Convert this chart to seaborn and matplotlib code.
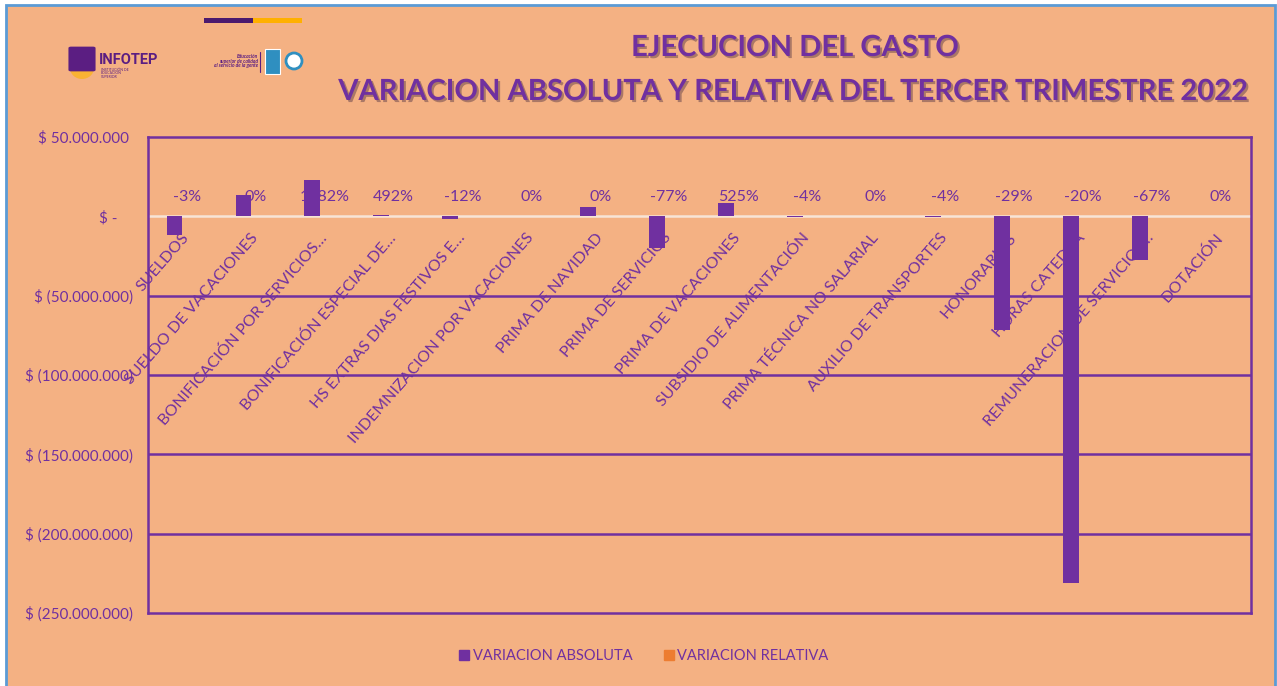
import matplotlib
matplotlib.use('Agg')
import matplotlib.pyplot as plt
import matplotlib.patches as mpatches
import matplotlib.patheffects as pe
from matplotlib.lines import Line2D
import pandas as pd
import seaborn as sns

sns.set_style(style='white')
plt.rcParams['font.family'] = ['Lato', 'DejaVu Sans']

# data
categorias = ["SUELDOS", "SUELDO DE VACACIONES", "BONIFICACIÓN POR SERVICIOS…",
              "BONIFICACIÓN ESPECIAL DE…", "HS EXTRAS DIAS FESTIVOS E…",
              "INDEMNIZACION POR VACACIONES", "PRIMA DE NAVIDAD", "PRIMA DE SERVICIOS",
              "PRIMA DE VACACIONES", "SUBSIDIO DE ALIMENTACIÓN", "PRIMA TÉCNICA NO SALARIAL",
              "AUXILIO DE TRANSPORTES", "HONORARIOS", "HORAS CATEDRA",
              "REMUNERACION DE SERVICIOS…", "DOTACIÓN"]
var_absoluta = [-12000000, 13200000, 22700000, 600000, -1900000, 0, 5700000, -20200000,
                8400000, -400000, 0, -300000, -71900000, -231400000, -27700000, 0]
var_relativa = [-0.03, 0.0, 13.82, 4.92, -0.12, 0.0, 0.0, -0.77,
                5.25, -0.04, 0.0, -0.04, -0.29, -0.20, -0.67, 0.0]
etiquetas_rel = ["-3%", "0%", "1382%", "492%", "-12%", "0%", "0%", "-77%",
                 "525%", "-4%", "0%", "-4%", "-29%", "-20%", "-67%", "0%"]
yticks = [50000000, 0, -50000000, -100000000, -150000000, -200000000, -250000000]
ytick_labels = ["$ 50.000.000 ", "$ -    ", "$ (50.000.000)", "$ (100.000.000)",
                "$ (150.000.000)", "$ (200.000.000)", "$ (250.000.000)"]

PURPLE = '#7030A0'
ORANGE = '#ED7D31'
BG = '#F4B183'
W, H = 1277, 686

df = pd.DataFrame({
    'categoria': categorias * 2,
    'valor': var_absoluta + var_relativa,
    'serie': ['VARIACION ABSOLUTA'] * len(categorias) + ['VARIACION RELATIVA'] * len(categorias),
})

fig = plt.figure(figsize=(W / 100, H / 100), dpi=100)
fig.patch.set_facecolor('white')

def px(x, y):
    return (x / W, 1 - y / H)

# slide background with thin blue frame
fig.patches.append(mpatches.Rectangle(px(6, 690), (1275 - 6) / W, (690 - 5) / H,
                                      transform=fig.transFigure, facecolor=BG,
                                      edgecolor='#5B9BD5', linewidth=2, zorder=-5))

ax = fig.add_axes([148 / W, 1 - 613 / H, (1251 - 148) / W, (613 - 137) / H])
ax.set_facecolor(BG)

sns.barplot(data=df, x='categoria', y='valor', hue='serie', palette=[PURPLE, ORANGE],
            width=0.46, ax=ax, legend=False, saturation=1, linewidth=0)
for p in ax.patches:
    p.set_zorder(3)

ax.set_ylim(-250000000, 50000000)
ax.set_xlim(-0.5, len(categorias) - 0.5)
ax.set_yticks(yticks)
ax.set_yticklabels(ytick_labels, color=PURPLE, fontsize=11)
ax.tick_params(axis='y', length=0, pad=11)
ax.set_xticks([])
ax.set_xlabel('')
ax.set_ylabel('')

for y in yticks[2:-1]:
    ax.axhline(y, color=PURPLE, lw=1.8, zorder=0.5)
ax.axhline(0, color='#F7E4D6', lw=1.8, zorder=2.5)
for s in ax.spines.values():
    s.set_visible(True)
    s.set_color(PURPLE)
    s.set_linewidth(1.8)

# category labels next to the zero line, under the bars
for i, c in enumerate(categorias):
    ax.text(i + 0.06, -12000000, c, rotation=49, ha='right', va='center',
            rotation_mode='anchor', color=PURPLE, fontsize=11.5, zorder=2)

# relative variation labels
for i, t in enumerate(etiquetas_rel):
    ax.text(i + 0.06, 12300000, t, ha='center', va='center', color=PURPLE,
            fontsize=11.5, zorder=2)

# titles
shadow = [pe.SimplePatchShadow(offset=(1.5, -1.5), alpha=0.35), pe.Normal()]
fig.text(*px(795, 48), 'EJECUCION DEL GASTO', ha='center', va='center',
         fontsize=21, fontweight='bold', color=PURPLE, path_effects=shadow)
fig.text(*px(793, 92), 'VARIACION ABSOLUTA Y RELATIVA DEL TERCER TRIMESTRE 2022',
         ha='center', va='center', fontsize=21, fontweight='bold', color=PURPLE,
         path_effects=shadow)

# legend
handles = [Line2D([], [], marker='s', linestyle='', markersize=7, color=PURPLE),
           Line2D([], [], marker='s', linestyle='', markersize=7, color=ORANGE)]
leg = fig.legend(handles, ['VARIACION ABSOLUTA', 'VARIACION RELATIVA'], loc='center',
                 bbox_to_anchor=px(644, 656), ncol=2, frameon=False, fontsize=10.5,
                 handlelength=0.6, handletextpad=0.3, columnspacing=2.2)
for t in leg.get_texts():
    t.set_color(PURPLE)

# logos (simplified)
fig.patches.append(mpatches.Rectangle(px(204, 23), 49 / W, 5 / H, transform=fig.transFigure,
                                      facecolor='#4B1A6E', edgecolor='none'))
fig.patches.append(mpatches.Rectangle(px(253, 23), 49 / W, 5 / H, transform=fig.transFigure,
                                      facecolor='#FFB000', edgecolor='none'))
fig.patches.append(mpatches.Ellipse(px(82, 68), 24 / W, 22 / H, transform=fig.transFigure,
                                    facecolor='#F9B233', edgecolor='none'))
fig.patches.append(mpatches.FancyBboxPatch(px(71, 70), 22 / W, 22 / H, transform=fig.transFigure,
                                           boxstyle='round,pad=0.002', facecolor='#5B1E82',
                                           edgecolor='none'))
fig.text(*px(99, 60), 'INFOTEP', ha='left', va='center', fontsize=10.5,
         fontweight='bold', color='#5B1E82', family=['Roboto', 'DejaVu Sans'])
for k, line in enumerate(['INSTITUCIÓN DE', 'EDUCACIÓN', 'SUPERIOR']):
    fig.text(*px(101, 70 + 3.5 * k), line, ha='left', va='center', fontsize=2.5, color='#5B1E82')
for k, line in enumerate(['Educación', 'superior de calidad', 'al servicio de la gente']):
    fig.text(*px(258, 56 + 5 * k), line, ha='right', va='center', fontsize=3.5,
             style='italic', fontweight='bold', color='#5B1E82')
fig.lines.append(Line2D([260 / W, 260 / W], [1 - 52 / H, 1 - 72 / H], transform=fig.transFigure,
                        color='#5B1E82', lw=0.8))
fig.patches.append(mpatches.Rectangle(px(265, 74), 15 / W, 25 / H, transform=fig.transFigure,
                                      facecolor='#2F8FC0', edgecolor='#FFFFFF', lw=0.8))
fig.patches.append(mpatches.Ellipse(px(294, 61), 16 / W, 16 / H, transform=fig.transFigure,
                                    facecolor='#FFFFFF', edgecolor='#2F8FC0', lw=2))

fig.savefig('out.png', dpi=100, facecolor=fig.get_facecolor())
plt.close(fig)
